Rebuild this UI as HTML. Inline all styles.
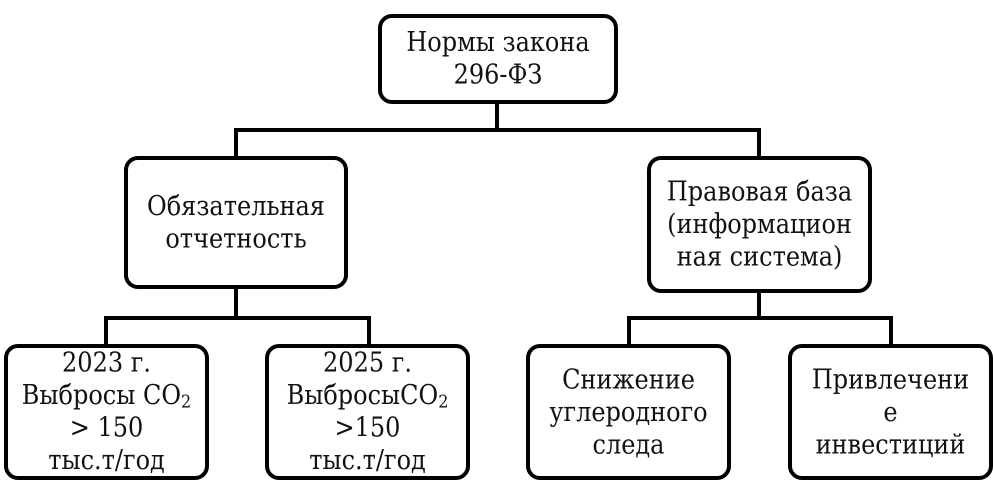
<!DOCTYPE html>
<html><head><meta charset="utf-8"><style>
body{margin:0;width:993px;height:495px;background:#fff;position:relative;overflow:hidden;font-family:"DejaVu Serif","Liberation Serif",serif;}
.b{position:absolute;box-sizing:border-box;border:4px solid #000;border-radius:14px;background:#fff;display:flex;align-items:center;justify-content:center;text-align:center;font-size:24px;line-height:29px;color:#111;}
.b>div{transform:scaleY(1.12);white-space:nowrap}
sub{font-size:16px;line-height:0;vertical-align:-3px}
svg{position:absolute;left:0;top:0}
</style></head><body>
<svg width="993" height="495"><g stroke="#000" stroke-width="4" fill="none">
<path d="M497 102V130M236 130H759M236 128V159M759 128V159"/>
<path d="M236 288V318M106 318H369M106 316V347M369 316V347"/>
<path d="M759 290V318M629 318H891M629 316V347M891 316V347"/>
</g></svg>
<div class="b" style="left:378px;top:14px;width:240px;height:90px"><div>Нормы закона<br>296-ФЗ</div></div>
<div class="b" style="left:124px;top:156px;width:224px;height:133px"><div>Обязательная<br>отчетность</div></div>
<div class="b" style="left:647px;top:156px;width:225px;height:137px"><div>Правовая база<br>(информацион<br>ная система)</div></div>
<div class="b" style="left:4px;top:344px;width:205px;height:136px"><div>2023 г.<br>Выбросы CO<sub>2</sub><br>&gt; 150<br>тыс.т/год</div></div>
<div class="b" style="left:265px;top:344px;width:205px;height:136px"><div>2025 г.<br>ВыбросыCO<sub>2</sub><br>&gt;150<br>тыс.т/год</div></div>
<div class="b" style="left:526px;top:344px;width:205px;height:136px"><div>Снижение<br>углеродного<br>следа</div></div>
<div class="b" style="left:788px;top:344px;width:205px;height:136px"><div>Привлечени<br>е<br>инвестиций</div></div>
</body></html>
